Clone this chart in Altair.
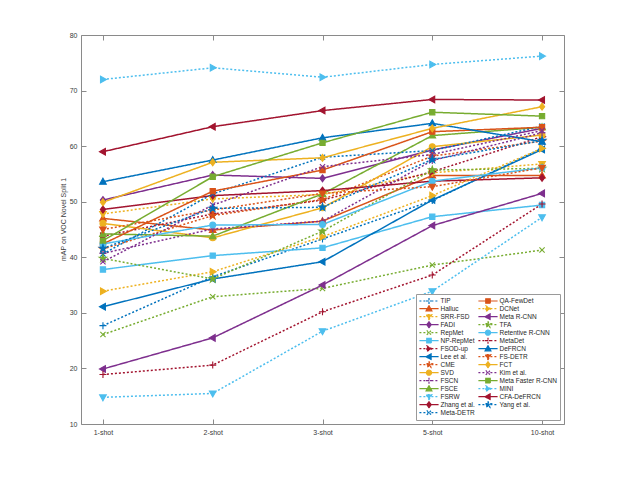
import altair as alt
import pandas as pd

# ---------------- data ----------------
shots = ["1-shot", "2-shot", "3-shot", "5-shot", "10-shot"]

methods = [
    "TIP", "Halluc", "SRR-FSD", "FADI", "RepMet", "NP-RepMet", "FSOD-up",
    "Lee et al.", "CME", "SVD", "FSCN", "FSCE", "FSRW", "Zhang et al.",
    "Meta-DETR", "QA-FewDet", "DCNet", "Meta R-CNN", "TFA", "Retentive R-CNN",
    "MetaDet", "DeFRCN", "FS-DETR", "FCT", "Kim et al.", "Meta Faster R-CNN",
    "MINI", "CFA-DeFRCN", "Yang et al.",
]

tip = [27.7, 36.5, 43.3, 50.2, 59.6]
halluc = [47.0, 44.9, 46.5, 54.7, 54.7]
srr_fsd = [47.8, 50.5, 51.3, 55.2, 56.8]
fadi = [50.3, 54.8, 54.2, 59.3, 63.2]
repmet = [26.1, 32.9, 34.4, 38.6, 41.3]
np_repmet = [37.8, 40.3, 41.7, 47.3, 49.4]
fsod_up = [43.8, 47.8, 50.3, 55.4, 61.7]
lee = [31.1, 36.1, 39.2, 50.3, 59.4]
cme = [41.5, 47.5, 50.4, 58.2, 60.9]
svd = [46.1, 43.5, 48.9, 59.9, 62.0]
fscn = [40.7, 45.1, 46.5, 57.4, 62.4]
fsce = [44.2, 43.8, 51.4, 61.9, 63.4]
fsrw = [14.8, 15.5, 26.7, 33.9, 47.2]
zhang = [48.6, 51.1, 52.0, 53.7, 54.3]
meta_detr = [40.6, 51.4, 58.0, 59.2, 63.6]
qa_fewdet = [42.4, 51.9, 55.7, 62.6, 63.4]
dcnet = [33.9, 37.4, 43.7, 51.1, 59.6]
meta_rcnn = [19.9, 25.5, 35.0, 45.7, 51.5]
tfa = [39.8, 36.1, 44.7, 55.7, 56.0]
retentive = [42.4, 45.8, 45.9, 53.7, 56.1]
metadet = [18.9, 20.6, 30.2, 36.8, 49.6]
defrcn = [53.6, 57.5, 61.5, 64.1, 60.8]
fs_detr = [45.0, 48.5, 51.5, 52.7, 56.1]
fct = [49.9, 57.1, 57.9, 63.2, 67.1]
kim = [39.2, 49.4, 56.3, 58.5, 62.8]
meta_faster = [43.0, 54.5, 60.6, 66.1, 65.4]
mini = [72.0, 74.1, 72.4, 74.7, 76.2]
cfa_defrcn = [59.0, 63.5, 66.4, 68.4, 68.3]
yang = [41.6, 48.8, 49.0, 57.6, 61.0]

series = [
    tip, halluc, srr_fsd, fadi, repmet, np_repmet, fsod_up, lee, cme, svd,
    fscn, fsce, fsrw, zhang, meta_detr, qa_fewdet, dcnet, meta_rcnn, tfa,
    retentive, metadet, defrcn, fs_detr, fct, kim, meta_faster, mini,
    cfa_defrcn, yang,
]

y_ticks = [10, 20, 30, 40, 50, 60, 70, 80]

# ---------------- styles (MATLAB defaults) ----------------
palette = ["#0072BD", "#D95319", "#EDB120", "#7E2F8E", "#77AC30", "#4DBEEE", "#A2142F"]
marker_paths = [
    "M-1,0L1,0M0,-1L0,1",                                   # +
    "M0,-1L0.95,0.7L-0.95,0.7Z",                            # ^
    "M0,1L0.95,-0.7L-0.95,-0.7Z",                           # v
    "M0,-1L0.75,0L0,1L-0.75,0Z",                            # d
    "M-0.75,-0.75L0.75,0.75M-0.75,0.75L0.75,-0.75",         # x
    "M-0.75,-0.75L0.75,-0.75L0.75,0.75L-0.75,0.75Z",        # s
    "M1,0L-0.7,-0.95L-0.7,0.95Z",                           # >
    "M-1,0L0.7,-0.95L0.7,0.95Z",                            # <
    "M0,-1.1L0.25,-0.34L1.05,-0.34L0.4,0.13L0.65,0.89L0,0.42L-0.65,0.89L-0.4,0.13L-1.05,-0.34L-0.25,-0.34Z",  # p
    "M-0.85,0A0.85,0.85,0,1,0,0.85,0A0.85,0.85,0,1,0,-0.85,0Z",  # o
]
dashes = [[2, 2], [1, 0]]
legend_line = "M-3.2,0L3.2,0"

style = {}
for i, m in enumerate(methods):
    style[m] = dict(
        color=palette[i % 7],
        marker=marker_paths[i % 10],
        dash=dashes[i % 2],
    )

# Vega fills a vertical two-column legend column by column
legend_order = list(methods)

color_range = [style[m]["color"] for m in legend_order]
marker_range = [style[m]["marker"] for m in legend_order]
legend_marker_range = [legend_line + style[m]["marker"] for m in legend_order]
dash_range = [style[m]["dash"] for m in legend_order]

color_lookup = "{" + ",".join("'%s':'%s'" % (m, style[m]["color"]) for m in methods) + "}[datum.value]"

rows = []
for name, vals in zip(methods, series):
    for s, v in zip(shots, vals):
        rows.append({"method": name, "shot": s, "mAP": v})
df = pd.DataFrame(rows)

# ---------------- chart ----------------
FONT = "Liberation Sans"
AX = "#8a8a8a"
TXT = "#3a3a3a"

axis_common = dict(
    domainColor=AX, domainWidth=1, tickColor=AX, tickWidth=1,
    tickSize=alt.ExprRef(expr="-5"), grid=False,
    labelFont=FONT, labelFontSize=7, labelColor=TXT,
)

x_scale = alt.Scale(type="point", padding=0.2)
y_scale = alt.Scale(domain=[10, 80], nice=False, zero=False)

color_scale = alt.Scale(domain=legend_order, range=color_range)
dash_scale = alt.Scale(domain=legend_order, range=dash_range)

lines = alt.Chart(df).mark_line(strokeWidth=1.5).encode(
    x=alt.X("shot:N", sort=shots, scale=x_scale,
            axis=alt.Axis(orient="bottom", title=None, labelAngle=0, labelPadding=9, **axis_common)),
    y=alt.Y("mAP:Q", scale=y_scale,
            axis=alt.Axis(orient="left", values=y_ticks, title="mAP on VOC Novel Split 1",
                          titleFont=FONT, titleFontSize=7, titleFontWeight="normal",
                          titleColor=TXT, titlePadding=3, titleY=184, labelPadding=9, **axis_common)),
    color=alt.Color("method:N", scale=color_scale, legend=None),
    strokeDash=alt.StrokeDash("method:N", scale=dash_scale, legend=None),
)

points = alt.Chart(df).mark_point(filled=True, size=49, strokeWidth=1.1, opacity=1).encode(
    x=alt.X("shot:N", sort=shots, scale=x_scale,
            axis=alt.Axis(orient="top", title=None, labels=False, **axis_common)),
    y=alt.Y("mAP:Q", scale=y_scale,
            axis=alt.Axis(orient="right", values=y_ticks, title=None, labels=False, **axis_common)),
    fill=alt.Fill("method:N", scale=color_scale, legend=None),
    stroke=alt.Stroke("method:N", scale=color_scale, legend=None),
    shape=alt.Shape("method:N", scale=alt.Scale(domain=legend_order, range=marker_range), legend=None),
)

leg = alt.Legend(
    title=None, orient="bottom-right", offset=4, columns=2, gridAlign="each",
    strokeColor="#9a9a9a", fillColor="white", padding=3,
    rowPadding=0, columnPadding=3, clipHeight=7.4,
    labelFont=FONT, labelFontSize=6.5, labelColor="#262626", labelLimit=200,
    symbolSize=36, symbolStrokeWidth=1.2, symbolOffset=6, labelOffset=7.5,
    symbolStrokeColor=alt.ExprRef(expr=color_lookup),
)

legend_layer = alt.Chart(df).transform_filter("false").mark_point(filled=True, opacity=1).encode(
    color=alt.Color("method:N", scale=color_scale, legend=leg),
    shape=alt.Shape("method:N", scale=alt.Scale(domain=legend_order, range=legend_marker_range), legend=leg),
    strokeDash=alt.StrokeDash("method:N", scale=dash_scale, legend=leg),
)

chart = alt.layer(lines, points, legend_layer).resolve_scale(
    color="independent", shape="independent", strokeDash="independent",
    fill="independent", stroke="independent",
).resolve_axis(
    x="independent", y="independent",
).properties(
    width=483, height=389,
    autosize=alt.AutoSizeParams(type="none"),
    padding={"left": 73, "top": 27, "right": 45, "bottom": 40},
    background="white",
).configure_view(stroke=None)

chart.save("out.html", embed_options={"renderer": "svg", "actions": False})
